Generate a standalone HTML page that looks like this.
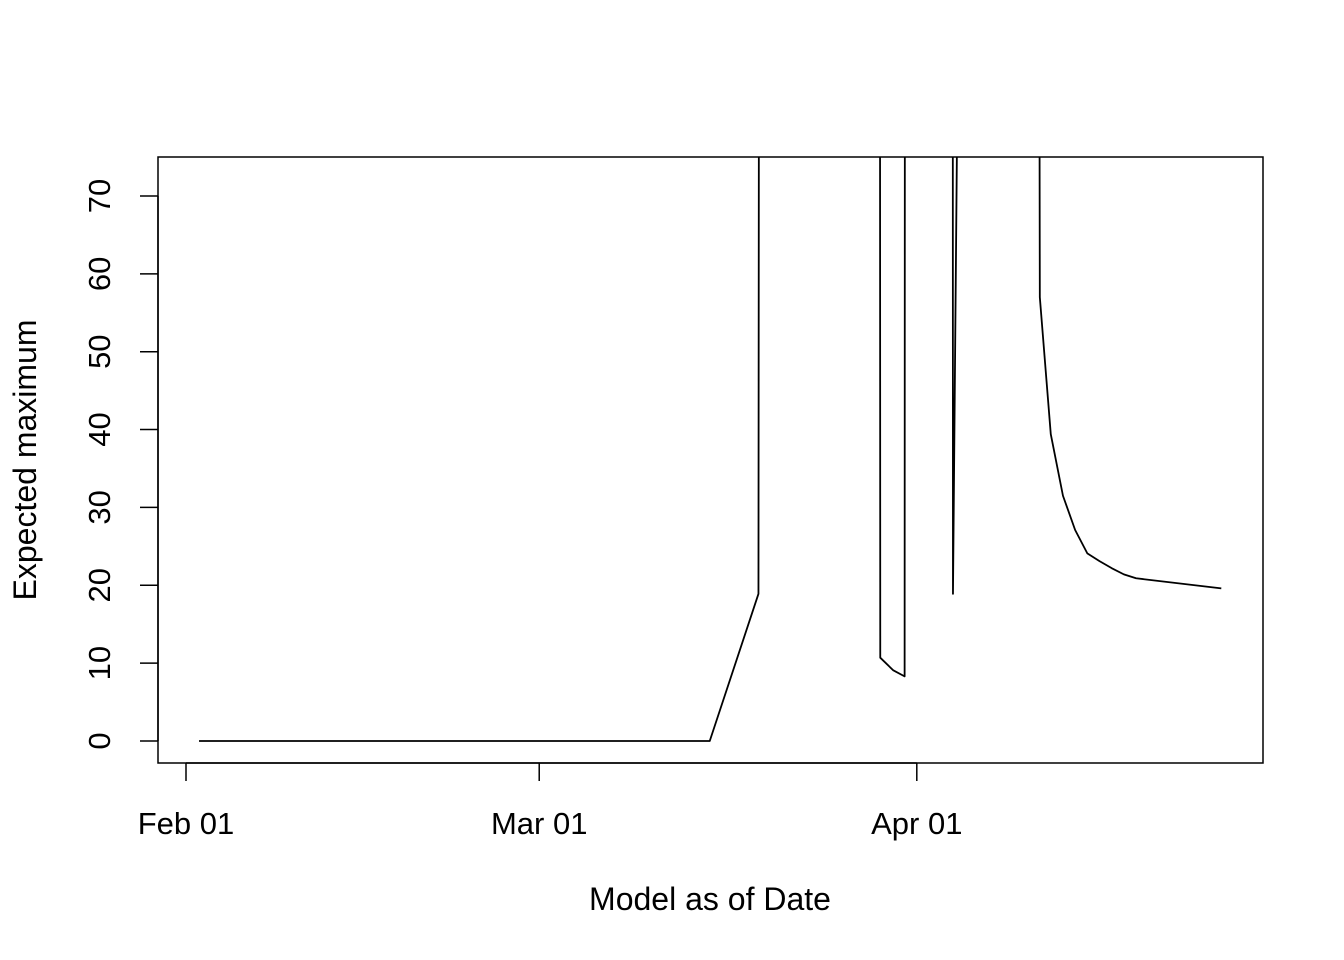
<!DOCTYPE html>
<html><head><meta charset="utf-8"><style>
html,body{margin:0;padding:0;background:#fff}
svg{display:block;font-family:"Liberation Sans",Arial,sans-serif}
</style></head><body>
<svg id="chart" width="1344" height="960">
<defs><clipPath id="plotclip"><rect x="158" y="157" width="1105" height="606"/></clipPath></defs>
<rect x="0" y="0" width="1344" height="960" fill="#fff"/>
<rect x="158" y="157" width="1105" height="606" fill="none" stroke="#000" stroke-width="1.5"/>
<g id="yaxis"></g>
<g id="xaxis"></g>
<g id="series" clip-path="url(#plotclip)"></g>
<text x="710" y="910" font-size="32" text-anchor="middle">Model as of Date</text>
<text transform="translate(36,460) rotate(-90)" font-size="32" text-anchor="middle">Expected maximum</text>
</svg>
<script>
// day offsets from Feb 01 (2020)
const days = [1.07, 43, 47, 47.1, 56.95, 57, 58.05, 59.0, 59.05, 62.93, 62.97, 64, 69.95, 70.1, 71, 72, 73, 74, 75, 76, 77, 78, 85];
const values = [0, 0, 18.9, 200, 200, 10.7, 9.1, 8.3, 200, 200, 18.9, 200, 200, 57, 39.4, 31.5, 27.1, 24.1, 23.1, 22.2, 21.4, 20.9, 19.6];
const yTicks = [0, 10, 20, 30, 40, 50, 60, 70];
const xTickDays = [0, 29, 60];
const xTickLabels = ["Feb 01", "Mar 01", "Apr 01"];

const NS = "http://www.w3.org/2000/svg";
const xs = d => 186 + d * 12.18;
const ys = v => 741 - v * 7.786;
function mk(tag, attrs, parent) {
  const e = document.createElementNS(NS, tag);
  for (const k in attrs) e.setAttribute(k, attrs[k]);
  parent.appendChild(e);
  return e;
}
const yg = document.getElementById('yaxis');
mk('line', {x1: 158, x2: 158, y1: ys(yTicks[0]), y2: ys(yTicks[yTicks.length - 1]), stroke: '#000', 'stroke-width': 1.5}, yg);
yTicks.forEach(t => {
  const l = mk('line', {x1: 140, x2: 158, y1: ys(t), y2: ys(t), stroke: '#000', 'stroke-width': 1.5}, yg);
  
  
  const tx = mk('text', {transform: `translate(110,${ys(t)}) rotate(-90)`, 'font-size': 31, 'text-anchor': 'middle'}, yg);
  tx.textContent = t;
  
  
});
const xg = document.getElementById('xaxis');
mk('line', {x1: xs(xTickDays[0]), x2: xs(xTickDays[xTickDays.length - 1]), y1: 763, y2: 763, stroke: '#000', 'stroke-width': 1.5}, xg);
xTickDays.forEach((d, i) => {
  const l = mk('line', {x1: xs(d), x2: xs(d), y1: 763, y2: 781, stroke: '#000', 'stroke-width': 1.5}, xg);
  
  
  const tx = mk('text', {x: xs(d), y: 834, 'font-size': 31, 'text-anchor': 'middle'}, xg);
  tx.textContent = xTickLabels[i];
  
  
});
const sg = document.getElementById('series');
const pts = days.map((d, i) => xs(d).toFixed(2) + ',' + ys(values[i]).toFixed(2)).join(' ');
const pl = mk('polyline', {points: pts, fill: 'none', stroke: '#000', 'stroke-width': 1.8, 'stroke-linejoin': 'round'}, sg);


</script>
</body></html>
